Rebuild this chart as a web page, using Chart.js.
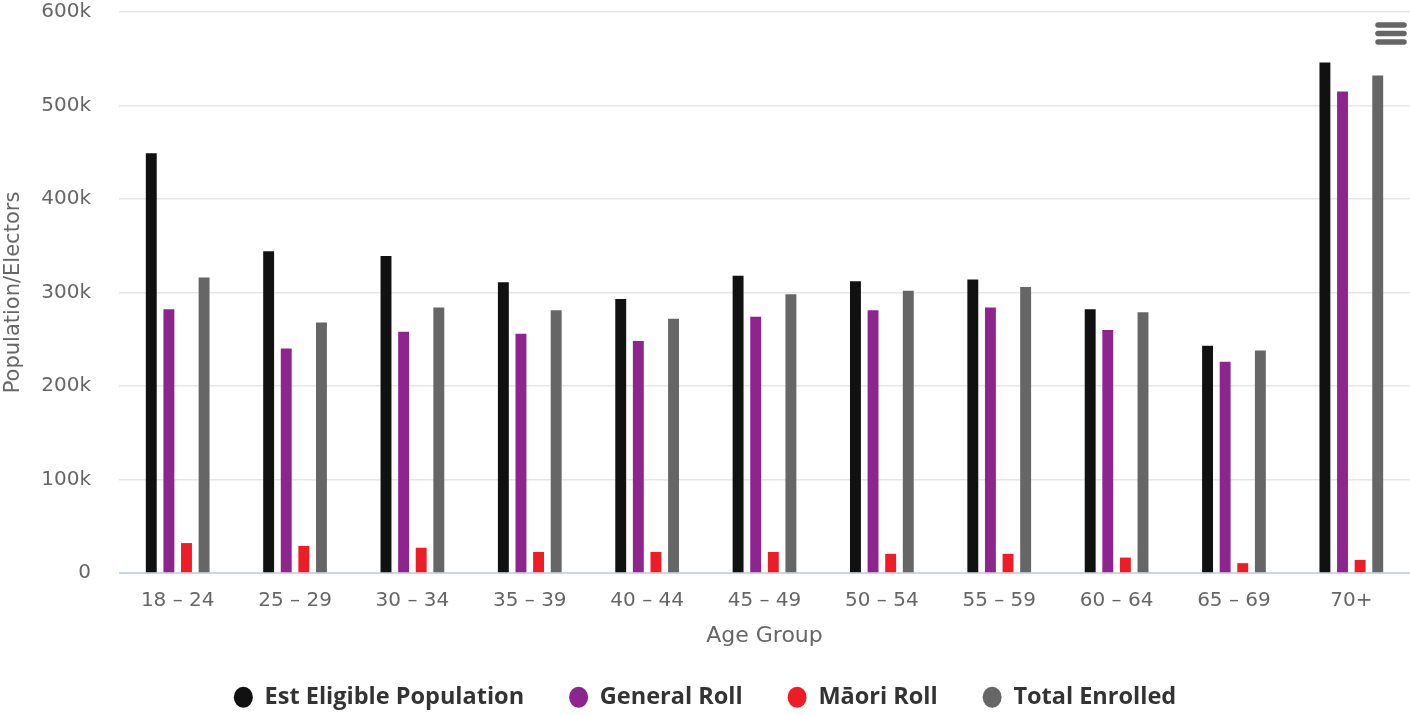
<!DOCTYPE html>
<html>
<head>
<meta charset="utf-8">
<title>Enrolment by Age Group</title>
<script src="https://cdn.jsdelivr.net/npm/chart.js@4/dist/chart.umd.min.js"></script>
<style>
  html, body { margin: 0; padding: 0; background: #fff; }
  #wrap { width: 1410px; height: 715px; position: relative; }
</style>
</head>
<body>
<div id="wrap"><canvas id="myChart"></canvas></div>
<script>
// age bands along the x axis
const ageGroups = ['18 – 24', '25 – 29', '30 – 34', '35 – 39', '40 – 44', '45 – 49',
    '50 – 54', '55 – 59', '60 – 64', '65 – 69', '70+'];

// population / elector counts per age band
const estEligible = [449000, 344000, 339000, 311000, 293000, 318000, 312000, 314000, 282000, 243000, 546000];
const generalRoll = [282000, 240000, 258000, 256000, 248000, 274000, 281000, 284000, 260000, 226000, 515000];
const maoriRoll = [32000, 29000, 27000, 22500, 22500, 22500, 20500, 20500, 16500, 10500, 14000];
const totalEnrolled = [316000, 268000, 284000, 281000, 272000, 298000, 302000, 306000, 279000, 238000, 532000];

const yTicks = [0, 100000, 200000, 300000, 400000, 500000, 600000];

const fontFamily = '"DejaVu Sans", sans-serif';
const legendFamily = '"Open Sans", sans-serif';

// the legend padding is also the gap between items; trim the box height
// so the row sits lower without losing that horizontal gap
const LEGEND_HEIGHT = 74.5;
const legendHeight = {
    id: 'legendHeight',
    beforeLayout(chart) {
        const legend = chart.legend;
        if (legend && !legend._trimmed) {
            const fit = legend.fit;
            legend.fit = function () {
                fit.call(this);
                this.height = LEGEND_HEIGHT;
            };
            legend._trimmed = true;
        }
    }
};

// little "hamburger" menu in the top right corner
const menuIcon = {
    id: 'menuIcon',
    afterDraw(chart) {
        const ctx = chart.ctx;
        ctx.save();
        ctx.strokeStyle = '#666666';
        ctx.lineWidth = 5.5;
        ctx.lineCap = 'round';
        [25, 33.5, 42].forEach((y) => {
            ctx.beginPath();
            ctx.moveTo(1378, y);
            ctx.lineTo(1404, y);
            ctx.stroke();
        });
        ctx.restore();
    }
};

const barDefaults = {
    categoryPercentage: 0.6,
    barPercentage: 0.62,
    borderWidth: 0,
};

var myChart = new Chart(document.getElementById('myChart'), {
    type: 'bar',
    data: {
        labels: ageGroups,
        datasets: [
            { label: 'Est Eligible Population', data: estEligible, backgroundColor: '#111111', ...barDefaults },
            { label: 'General Roll', data: generalRoll, backgroundColor: '#8e258f', ...barDefaults },
            { label: 'Māori Roll', data: maoriRoll, backgroundColor: '#ee1d25', ...barDefaults },
            { label: 'Total Enrolled', data: totalEnrolled, backgroundColor: '#666666', ...barDefaults },
        ]
    },
    options: {
        responsive: true,
        maintainAspectRatio: false,
        animation: false,
        layout: {
            padding: { top: 1, left: 0, right: 0, bottom: 0 }
        },
        scales: {
            x: {
                // fixed band under the plot, no extra side padding
                afterFit: (scale) => {
                    scale.height = 67.5;
                    scale.paddingLeft = 0;
                    scale.paddingRight = 0;
                },
                grid: { display: false, drawTicks: false },
                border: { display: true, color: '#ccd6eb', width: 1 },
                ticks: {
                    color: '#666666',
                    font: { family: fontFamily, size: 20 },
                    padding: 16,
                    maxRotation: 0,
                },
                title: {
                    display: true,
                    text: 'Age Group',
                    color: '#666666',
                    font: { family: fontFamily, size: 22 },
                    padding: { top: 9.8, bottom: -8.7 },
                }
            },
            y: {
                min: 0,
                max: 600000,
                afterBuildTicks: (axis) => {
                    axis.ticks = yTicks.map((v) => ({ value: v }));
                },
                // tick padding would otherwise also pad the top of the plot
                afterFit: (scale) => {
                    scale.width = 119;
                    scale.paddingTop = 12;
                    scale.paddingBottom = 0;
                },
                grid: {
                    color: (c) => c.tick && c.tick.value === 0 ? '#ccd6eb' : '#e6e6e6',
                    lineWidth: 1.5,
                    drawTicks: false
                },
                border: { display: false },
                ticks: {
                    color: '#666666',
                    font: { family: fontFamily, size: 20 },
                    padding: 28,
                    callback: (v) => v === 0 ? '0' : (v / 1000) + 'k',
                },
                title: {
                    display: true,
                    text: 'Population/Electors',
                    color: '#666666',
                    font: { family: fontFamily, size: 21 },
                    padding: { top: 1.4, bottom: 4 },
                }
            }
        },
        plugins: {
            legend: {
                position: 'bottom',
                labels: {
                    usePointStyle: true,
                    pointStyle: 'circle',
                    pointStyleWidth: 19,
                    boxHeight: 15,
                    color: '#333333',
                    padding: 45,
                    font: { family: legendFamily, size: 23.5, weight: 'bold' },
                }
            },
            tooltip: { enabled: false }
        }
    },
    plugins: [legendHeight, menuIcon]
});
</script>
</body>
</html>
